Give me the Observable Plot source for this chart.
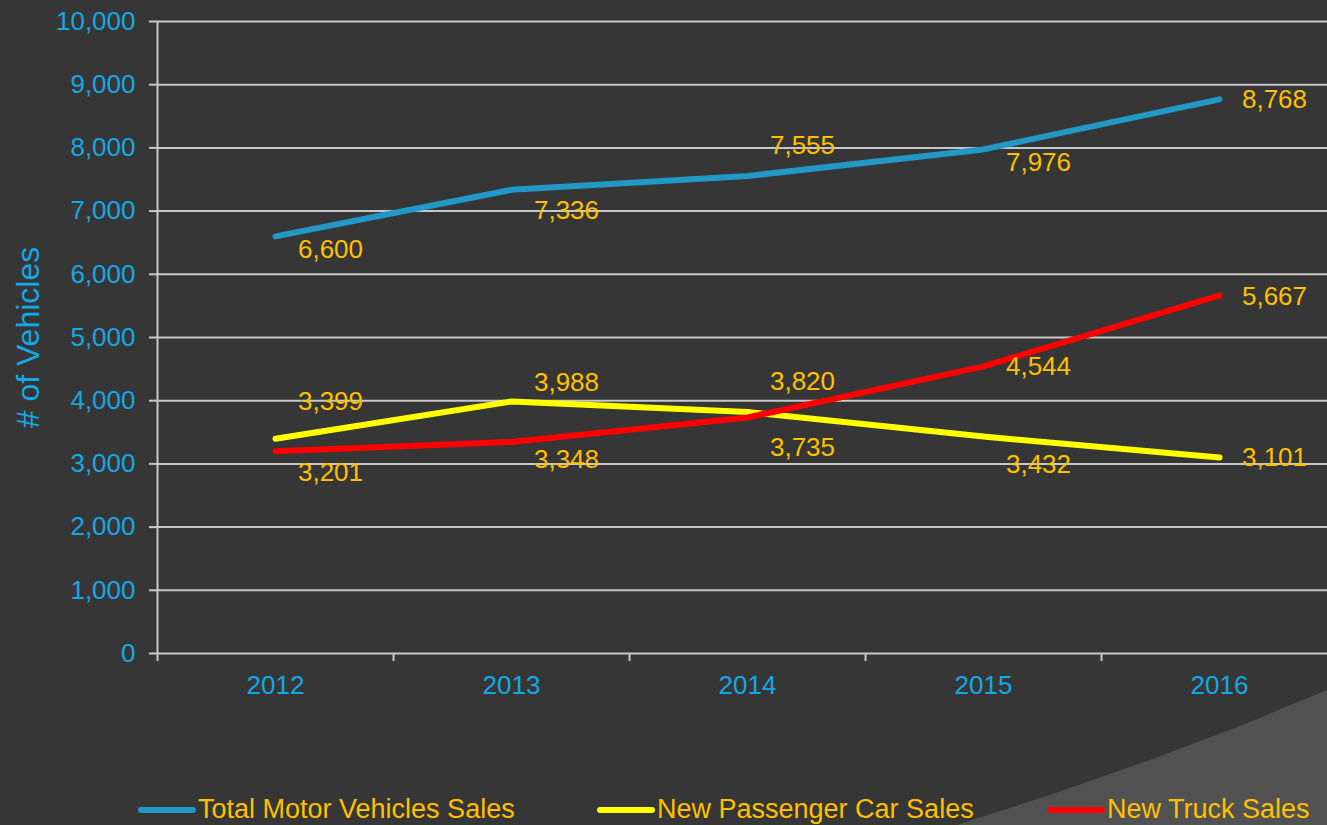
<!DOCTYPE html>
<html>
<head>
<meta charset="utf-8">
<script src="https://cdn.jsdelivr.net/npm/d3@7"></script>
<script src="https://cdn.jsdelivr.net/npm/@observablehq/plot@0.6"></script>
<style>
  html, body { margin: 0; padding: 0; }
  body { width: 1327px; height: 825px; overflow: hidden; background: #363636; position: relative;
         font-family: "Liberation Sans", Arial, sans-serif; }
  #wedge { position: absolute; left: 0; top: 0; width: 1327px; height: 825px;
           background: linear-gradient(160deg, #4a4a4a 0%, #525252 100%);
           clip-path: polygon(1327px 690px, 1240px 726px, 1150px 760px, 1050px 795px, 957px 825px, 1327px 825px); }
  #chart { position: absolute; left: 0; top: 0; width: 1345px; }
  #chart svg { max-width: none !important; }
  #legend { position: absolute; left: 0; top: 794px; width: 1327px; height: 30px; }
  .item { position: absolute; top: 0; display: flex; align-items: center; height: 30px;
          font-size: 27px; color: #ffc000; white-space: nowrap; }
  .sw { width: 58px; height: 6px; border-radius: 3px; margin-right: 2px; margin-top: 2px; }
</style>
</head>
<body>
<div id="wedge"></div>
<div id="chart"></div>
<div id="legend"></div>
<script>
// ---- data ----
const years = [2012, 2013, 2014, 2015, 2016];
const totalSales = [6600, 7336, 7555, 7976, 8768];
const carSales = [3399, 3988, 3820, 3432, 3101];
const truckSales = [3201, 3348, 3735, 4544, 5667];
const seriesNames = ["Total Motor Vehicles Sales", "New Passenger Car Sales", "New Truck Sales"];
const yTicks = [0, 1000, 2000, 3000, 4000, 5000, 6000, 7000, 8000, 9000, 10000];

// ---- label layout (vertical offsets of value labels, px) ----
const totalLabelDy = [13, 21, -30, 13, 0];
const carLabelDy = [-37, -19, -30, 28, 0];
const truckLabelDy = [21, 18, 30, 0, 1];

// ---- styles ----
const colors = ["#2198c6", "#ffff00", "#ff0000"];
const axisBlue = "#14a8e4";
const labelGold = "#ffc000";
const gridGray = "#c8c8c8";

const seriesValues = [totalSales, carSales, truckSales];
const seriesDy = [totalLabelDy, carLabelDy, truckLabelDy];
const rows = seriesNames.flatMap((name, s) =>
  years.map((year, i) => ({series: name, year, value: seriesValues[s][i], dy: seriesDy[s][i]})));

const boundaries = years.map(y => y - 0.5).concat([years[years.length - 1] + 0.5]);
const fmt = d3.format(",");

const marks = [
  Plot.gridY(yTicks, {stroke: gridGray, strokeOpacity: 1, strokeWidth: 2}),
  Plot.axisY(yTicks, {tickSize: 8, tickPadding: 14, stroke: gridGray, strokeWidth: 2, fill: axisBlue,
                      fontSize: 26, tickFormat: fmt, label: null}),
  Plot.ruleX([boundaries[0]], {stroke: gridGray, strokeWidth: 2}),
  Plot.axisX(boundaries, {tickSize: 8, tickFormat: () => "", stroke: gridGray, strokeWidth: 2, label: null}),
  Plot.axisX(years, {tickSize: 0, tickPadding: 22, tickFormat: d => String(d), fill: axisBlue, fontSize: 26, label: null}),
  Plot.text(["# of Vehicles"], {text: d => d, frameAnchor: "left", textAnchor: "middle", rotate: -90, dx: -129,
                                fill: axisBlue, fontSize: 32})
];
seriesNames.forEach((name, s) => {
  marks.push(Plot.line(rows.filter(r => r.series === name), {
    x: "year", y: "value", stroke: colors[s], strokeWidth: 6, strokeLinecap: "round",
    strokeLinejoin: "round", curve: "linear"
  }));
});
seriesNames.forEach((name, s) => {
  rows.filter(r => r.series === name).forEach(r => {
    marks.push(Plot.text([r], {x: "year", y: "value", text: d => fmt(d.value), dx: 55, dy: r.dy,
                               fill: labelGold, fontSize: 26}));
  });
});

const chart = Plot.plot({
  width: 1345,
  height: 720,
  marginLeft: 157,
  marginRight: 8,
  marginTop: 21,
  marginBottom: 67,
  x: {type: "linear", domain: [boundaries[0], boundaries[boundaries.length - 1]]},
  y: {domain: [0, 10000]},
  style: {background: "transparent", fontFamily: "Liberation Sans, Arial, sans-serif", overflow: "visible", maxWidth: "none"},
  marks
});
document.getElementById("chart").appendChild(chart);

// ---- legend ----
const legendLeft = [138, 597, 1047];
const legend = document.getElementById("legend");
seriesNames.forEach((name, s) => {
  const item = document.createElement("div");
  item.className = "item";
  item.style.left = legendLeft[s] + "px";
  const sw = document.createElement("div");
  sw.className = "sw";
  sw.style.background = colors[s];
  item.appendChild(sw);
  const t = document.createElement("span");
  t.textContent = name;
  item.appendChild(t);
  legend.appendChild(item);
});
</script>
</body>
</html>
